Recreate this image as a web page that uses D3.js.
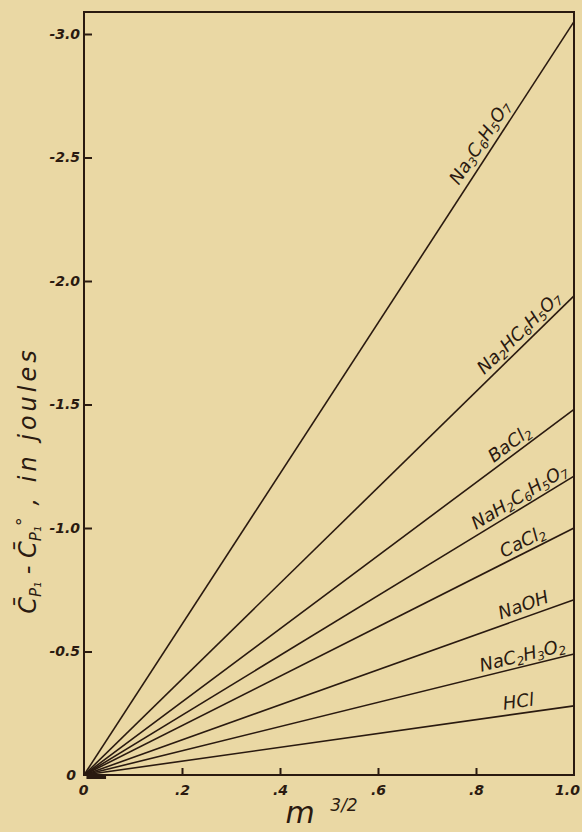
<!DOCTYPE html>
<html><head><meta charset="utf-8">
<script src="https://cdn.jsdelivr.net/npm/d3@7"></script>
<style>
html,body{margin:0;padding:0;background:#ead8a4;}
svg{display:block;}
text{font-family:"DejaVu Sans",sans-serif;fill:#2a1a10;}
</style></head>
<body>
<svg id="c" width="582" height="832"></svg>
<script>
// Data: value of (Cp1 - Cp1°) at m^(3/2) = 1.0, each line runs from origin
const series = ["Na3C6H5O7","Na2HC6H5O7","BaCl2","NaH2C6H5O7","CaCl2","NaOH","NaC2H3O2","HCl"];
const endValues = [-3.05, -1.94, -1.48, -1.21, -1.00, -0.71, -0.49, -0.28];
const xTicks = [0, 0.2, 0.4, 0.6, 0.8, 1.0];
const xTickLabels = ["0", ".2", ".4", ".6", ".8", "1.0"];
const yTicks = [0, -0.5, -1.0, -1.5, -2.0, -2.5, -3.0];
const yTickLabels = ["0", "-0.5", "-1.0", "-1.5", "-2.0", "-2.5", "-3.0"];

// label pieces: [text, isSub]
const labelParts = [
  [["Na",0],["3",1],["C",0],["6",1],["H",0],["5",1],["O",0],["7",1]],
  [["Na",0],["2",1],["HC",0],["6",1],["H",0],["5",1],["O",0],["7",1]],
  [["BaCl",0],["2",1]],
  [["NaH",0],["2",1],["C",0],["6",1],["H",0],["5",1],["O",0],["7",1]],
  [["CaCl",0],["2",1]],
  [["NaOH",0]],
  [["NaC",0],["2",1],["H",0],["3",1],["O",0],["2",1]],
  [["HCl",0]]
];
// layout: where along each line its label sits, and its offset from the line
const labelAt = [0.83, 0.905, 0.882, 0.90, 0.905, 0.905, 0.90, 0.89];
const labelDy = [-7, -6, -5, -5, -5, -6, -5, -6];

const ink = "#2a1a10";
const svg = d3.select("#c");
const L = 84, R = 574, B = 775, T = 12;
const x = d3.scaleLinear().domain([0, 1]).range([L, R]);
const y = d3.scaleLinear().domain([0, -3.0]).range([B, 34]);

// frame
svg.append("rect").attr("x", L).attr("y", T).attr("width", R - L).attr("height", B - T)
  .attr("fill", "none").attr("stroke", ink).attr("stroke-width", 2);

// axes
const xAxis = d3.axisBottom(x).tickValues(xTicks).tickSize(-7).tickPadding(10)
  .tickFormat((d, i) => xTickLabels[i]);
const gx = svg.append("g").attr("transform", `translate(0,${B})`).call(xAxis);
const yAxis = d3.axisLeft(y).tickValues(yTicks).tickSize(-8).tickPadding(4)
  .tickFormat((d, i) => yTickLabels[i]);
const gy = svg.append("g").attr("transform", `translate(${L},0)`).call(yAxis);
[gx, gy].forEach(g => {
  g.select(".domain").remove();
  g.selectAll(".tick line").attr("stroke", ink).attr("stroke-width", 2);
  g.selectAll(".tick text").attr("fill", ink).style("font-size", "14px")
    .style("font-style", "italic").style("font-weight", "bold")
    .style("font-family", "'DejaVu Sans', sans-serif");
});
gx.selectAll(".tick line").filter(d => d === 0 || d === 1).remove();
gx.selectAll(".tick text").filter(d => d === 1).attr("dx", -7);
gx.selectAll(".tick text").filter(d => d === 0).attr("dx", -1);
gy.selectAll(".tick line").filter(d => d === 0).remove();
gy.selectAll(".tick text").filter(d => d === 0).attr("dx", -4);

// lines
const line = d3.line().x(d => x(d[0])).y(d => y(d[1]));
series.forEach((s, i) => {
  svg.append("path").datum([[0, 0], [1, endValues[i]]])
    .attr("d", line).attr("fill", "none").attr("stroke", ink).attr("stroke-width", 1.6);
});
// cluster of small marks near origin
svg.append("path").datum([[0.005, 0.006], [0.045, 0.006]]).attr("d", line)
  .attr("stroke", ink).attr("stroke-width", 5).attr("fill", "none");

// line labels
series.forEach((s, i) => {
  const xv = labelAt[i];
  const px = x(xv), py = y(endValues[i] * xv);
  const ang = Math.atan2(y(endValues[i]) - y(0), x(1) - x(0)) * 180 / Math.PI;
  const t = svg.append("text")
    .attr("transform", `translate(${px},${py}) rotate(${ang})`)
    .attr("text-anchor", "middle").attr("dy", labelDy[i])
    .style("font-size", "18px").style("font-style", "italic");
  labelParts[i].forEach(p => {
    const ts = t.append("tspan").text(p[0]);
    if (p[1]) ts.style("font-size", "12px").attr("baseline-shift", "-25%");
  });
});

// y-axis title
const yt = svg.append("text")
  .attr("transform", "translate(36,480) rotate(-90)")
  .attr("text-anchor", "middle")
  .style("font-size", "24px").style("font-style", "italic");
yt.append("tspan").text("C\u0304");
yt.append("tspan").text("P\u2081").style("font-size", "15px").attr("baseline-shift", "-30%");
yt.append("tspan").text(" - C\u0304");
yt.append("tspan").text("P\u2081").style("font-size", "15px").attr("baseline-shift", "-30%");
yt.append("tspan").text("°").style("font-size", "18px").attr("baseline-shift", "40%");
yt.append("tspan").text(" ,  in  joules").style("letter-spacing", "4px");

// x-axis title
svg.append("text").attr("x", 300).attr("y", 823).attr("text-anchor", "middle")
  .style("font-size", "30px").style("font-style", "italic").text("m");
svg.append("text").attr("x", 344).attr("y", 811).attr("text-anchor", "middle")
  .style("font-size", "17px").style("font-style", "italic").text("3/2");
</script>
</body></html>
